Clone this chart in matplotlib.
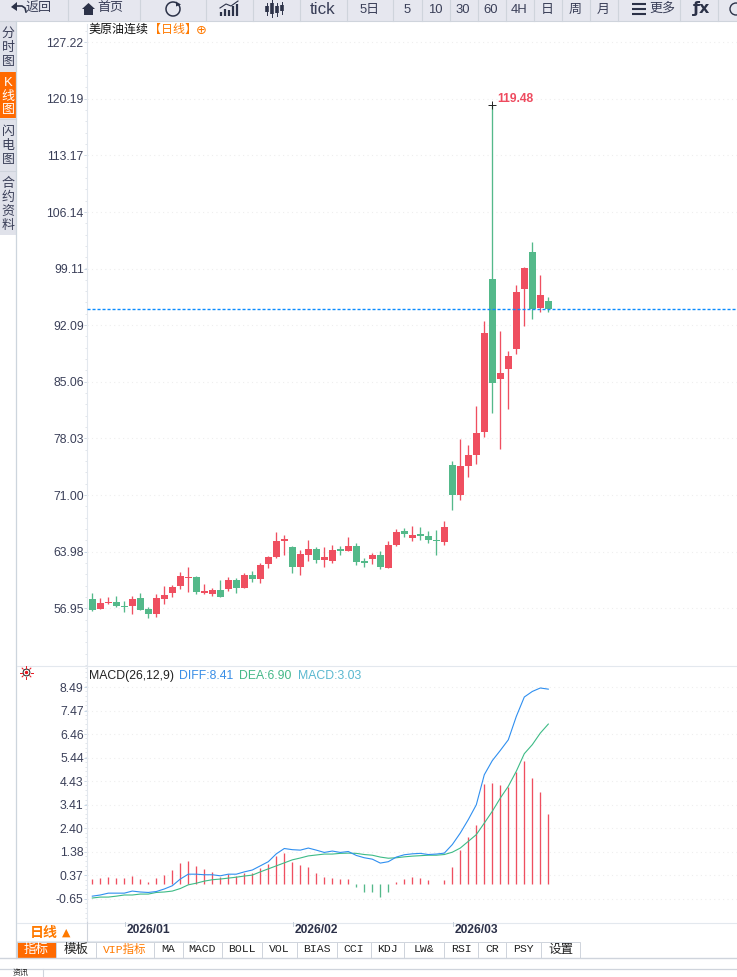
import numpy as np
import matplotlib
matplotlib.use('Agg')
import matplotlib.pyplot as plt
from matplotlib.patches import Rectangle, Circle, Polygon, Arc

plt.rcParams['font.family'] = ['Liberation Sans', 'Noto Sans CJK SC', 'DejaVu Sans']

W, H = 737, 977

# daily candles
opens = [58.10, 56.87, 57.61, 57.73, 57.24, 57.24, 58.23, 56.87, 56.25, 58.10,
         58.84, 59.71, 60.69, 60.82, 58.84, 58.72, 59.21, 59.34, 60.45, 59.46,
         61.06, 60.57, 62.42, 63.29, 65.26, 64.52, 62.05, 63.53, 64.27, 62.92,
         62.79, 64.27, 64.03, 64.65, 62.79, 63.04, 63.53, 61.93, 64.77, 66.50,
         65.63, 66.13, 65.88, 65.39, 65.14, 74.76, 71.04, 74.63, 76.00, 78.84,
         97.79, 85.41, 86.65, 89.12, 96.55, 101.13, 94.20, 95.07]
closes = [56.74, 57.61, 57.73, 57.24, 57.11, 58.10, 56.74, 56.25, 58.23, 58.60,
          59.58, 60.94, 60.82, 58.97, 59.09, 59.21, 58.35, 60.45, 59.46, 61.06,
          60.57, 62.30, 63.29, 65.26, 65.51, 62.05, 63.66, 64.27, 62.92, 63.29,
          64.15, 64.03, 64.65, 62.67, 62.55, 63.53, 62.05, 64.77, 66.37, 66.13,
          66.00, 65.88, 65.39, 65.26, 66.99, 70.96, 74.63, 76.00, 78.72, 91.10,
          84.91, 86.15, 88.26, 96.18, 99.15, 94.16, 95.81, 94.16]
highs = [58.84, 58.23, 58.35, 58.47, 57.86, 58.47, 58.84, 57.11, 58.72, 59.71,
         59.83, 61.44, 62.05, 60.94, 59.95, 59.46, 60.45, 60.82, 60.69, 61.31,
         61.56, 62.55, 63.41, 66.37, 66.00, 64.65, 64.15, 65.39, 64.52, 64.52,
         64.77, 64.65, 65.76, 65.02, 63.16, 63.78, 64.03, 65.26, 66.74, 66.87,
         67.11, 66.99, 66.50, 66.62, 67.73, 75.25, 77.98, 77.23, 82.06, 92.59,
         119.48, 91.35, 88.87, 97.05, 99.28, 102.37, 98.29, 95.56]
lows = [56.62, 56.87, 57.48, 57.11, 56.50, 56.25, 56.74, 55.76, 55.88, 57.48,
        58.35, 59.34, 58.97, 58.72, 58.72, 58.47, 58.35, 59.09, 58.84, 59.46,
        60.20, 60.08, 61.93, 63.16, 63.53, 61.31, 61.07, 62.79, 62.55, 62.05,
        62.55, 63.53, 64.03, 62.30, 62.05, 62.42, 61.81, 61.93, 64.65, 65.76,
        65.26, 65.39, 65.02, 63.53, 64.77, 69.18, 70.42, 73.27, 74.88, 78.22,
        81.20, 76.74, 81.69, 88.50, 91.97, 92.84, 93.70, 93.70]

diff = [-0.54, -0.49, -0.41, -0.41, -0.41, -0.32, -0.36, -0.38, -0.34, -0.23,
        -0.09, 0.20, 0.41, 0.41, 0.385, 0.385, 0.34, 0.41, 0.41, 0.51,
        0.59, 0.77, 0.95, 1.29, 1.52, 1.47, 1.45, 1.54, 1.45, 1.35,
        1.41, 1.35, 1.39, 1.22, 1.12, 1.06, 0.89, 0.95, 1.15, 1.25,
        1.29, 1.31, 1.26, 1.28, 1.32, 1.69, 2.19, 2.77, 3.41, 4.71,
        5.32, 5.76, 6.22, 7.23, 8.07, 8.31, 8.46, 8.41]
dea = [-0.62, -0.58, -0.58, -0.54, -0.49, -0.49, -0.45, -0.45, -0.38, -0.36,
       -0.32, -0.21, -0.05, 0.02, 0.11, 0.17, 0.20, 0.24, 0.28, 0.33,
       0.37, 0.51, 0.64, 0.77, 0.90, 1.03, 1.11, 1.20, 1.24, 1.28,
       1.28, 1.31, 1.32, 1.31, 1.26, 1.23, 1.15, 1.10, 1.12, 1.16,
       1.19, 1.21, 1.23, 1.23, 1.26, 1.36, 1.54, 1.83, 2.12, 2.62,
       3.13, 3.70, 4.21, 4.86, 5.62, 6.01, 6.51, 6.90]
macd = [0.20, 0.245, 0.29, 0.245, 0.245, 0.33, 0.20, 0.07, 0.245, 0.375,
        0.59, 0.89, 0.98, 0.76, 0.63, 0.50, 0.29, 0.42, 0.33, 0.46,
        0.46, 0.68, 0.85, 1.20, 1.33, 0.94, 0.81, 0.72, 0.46, 0.29,
        0.245, 0.20, 0.20, -0.14, -0.36, -0.36, -0.58, -0.36, 0.07, 0.20,
        0.29, 0.245, 0.16, -0.02, 0.16, 0.72, 1.46, 2.01, 2.53, 4.30,
        4.34, 4.26, 4.20, 4.81, 5.30, 4.56, 3.96, 3.03]

price_ticks = [127.22, 120.19, 113.17, 106.14, 99.11, 92.09, 85.06, 78.03, 71.00, 63.98, 56.95]
macd_ticks = [8.49, 7.47, 6.46, 5.44, 4.43, 3.41, 2.40, 1.38, 0.37, -0.65]
date_pos = [4, 25, 45]
date_labels = ['2026/01', '2026/02', '2026/03']
last_price = 94.15
peak_price = 119.48

RED = '#ef4f60'
GREEN = '#54b98a'
BLUE = '#2f8ff0'
LINE = '#e3e8ee'
GRID = '#eeeeee'
TEXT = '#3a3f58'
ICON = '#2c3248'
ORANGE = '#ff7a00'
CHROME = '#e6e7ef'
SEP = '#cfd4dc'


def px(v):
    return v * 0.72


def pane(top, bottom):
    ax = fig.add_axes([87 / W, 1 - bottom / H, (W - 87) / W, (bottom - top) / H])
    ax.set_xlim((87 - 92.3) / 8, (W - 92.3) / 8)
    ax.set_facecolor('white')
    for s in ['top', 'right', 'bottom']:
        ax.spines[s].set_visible(False)
    ax.spines['left'].set_color(LINE)
    ax.spines['left'].set_linewidth(0.8)
    ax.set_xticks([])
    return ax


def style_y(ax, ticks, step, ylim):
    ax.set_yticks(ticks)
    ax.set_yticklabels(['%.2f' % t for t in ticks], fontsize=px(12.2), color=TEXT)
    ax.tick_params(axis='y', which='major', length=2.2, width=0.7, color='#c6d6e6', pad=0.2)
    ax.set_yticks(np.arange(ticks[-1] - step * 10, ticks[0] + step * 10, step), minor=True)
    ax.tick_params(axis='y', which='minor', length=1.4, width=0.6, color='#dde2e8')
    ax.grid(True, axis='y', which='major', color=GRID, linestyle=(0, (1, 3)), linewidth=0.8)
    ax.set_axisbelow(True)
    ax.set_ylim(*ylim)


fig = plt.figure(figsize=(W / 100, H / 100), dpi=100, facecolor='white')

# price pane
ax = pane(24, 665)
p_scale = (608.3 - 42.2) / (price_ticks[0] - price_ticks[-1])
style_y(ax, price_ticks, (price_ticks[0] - price_ticks[1]) / 5,
        (price_ticks[-1] - (665 - 608.3) / p_scale, price_ticks[0] + (42.2 - 24) / p_scale))

x = np.arange(len(opens))
o = np.array(opens)
c = np.array(closes)
colors = [RED if c[i] >= o[i] else GREEN for i in x]
ax.vlines(x, lows, highs, colors=colors, linewidth=0.95, zorder=3)
ax.bar(x, np.maximum(np.abs(c - o), 0.1), bottom=np.minimum(o, c), width=0.875,
       color=colors, linewidth=0, zorder=3)
ax.axhline(last_price, color='#0a8cff', linewidth=1.0, linestyle=(0, (2.2, 1.4)), zorder=4)
ax.plot([50], [peak_price], marker='+', color='#222222', markersize=5.5, markeredgewidth=0.7, zorder=5)
ax.annotate('%.2f' % peak_price, (50, peak_price), xytext=(3.5, 0), textcoords='offset points',
            color='#ee4b5f', fontsize=px(12), fontweight='bold', va='bottom')

# macd pane
ax2 = pane(667, 922)
m_scale = (898.7 - 687.3) / (macd_ticks[0] - macd_ticks[-1])
style_y(ax2, macd_ticks, (macd_ticks[0] - macd_ticks[1]) / 5,
        (macd_ticks[-1] - (922 - 898.7) / m_scale, macd_ticks[0] + (687.3 - 667) / m_scale))
m = np.array(macd)
ax2.vlines(x, 0, m, colors=[RED if v >= 0 else GREEN for v in m], linewidth=0.95, zorder=2)
ax2.plot(x, dea, color='#3dbb86', linewidth=0.8, zorder=3)
ax2.plot(x, diff, color=BLUE, linewidth=0.8, zorder=4)

# everything around the chart goes on a pixel overlay
ov = fig.add_axes([0, 0, 1, 1], zorder=10)
ov.set_xlim(0, W)
ov.set_ylim(H, 0)
ov.axis('off')
ov.patch.set_alpha(0)


def box(x0, y0, x1, y1, color, ec='none', lw=0):
    ov.add_patch(Rectangle((x0, y0), x1 - x0, y1 - y0, facecolor=color, edgecolor=ec, linewidth=lw))


def label(tx, ty, s, size=12, color=TEXT, ha='center', **kw):
    ov.text(tx, ty, s, fontsize=px(size), color=color, ha=ha, va='center', **kw)


# toolbar
box(0, 0, W, 21, CHROME)
ov.plot([0, W], [21, 21], color=SEP, lw=0.8)
for sx in [68, 140, 206, 253, 300, 347, 393, 422, 450, 478, 506, 534, 562, 590, 618, 680, 718]:
    ov.plot([sx, sx], [0, 21], color=SEP, lw=0.8)
tool_x = [370, 407, 435, 463, 491, 519, 547, 575, 603]
tool_s = ['5日', '5', '10', '30', '60', '4H', '日', '周', '月']
for tx, s in zip(tool_x, tool_s):
    label(tx, 10, s, size=13)
label(323, 9, 'tick', size=17)
label(39, 8, '返回', size=13)
label(110, 8, '首页', size=13)
label(662, 9, '更多', size=13)
label(702, 9, 'ƒx', size=16, color=ICON, fontweight='bold', family=['DejaVu Sans'])

# toolbar icons
ov.add_patch(Polygon([(11, 7), (17, 2), (17, 11)], facecolor=ICON, edgecolor='none'))
ov.plot([16, 22, 25, 26], [6, 6, 8, 12], color=ICON, lw=1.2)
ov.add_patch(Polygon([(82, 9), (88.5, 3), (95, 9), (93, 9), (93, 15), (84, 15), (84, 9)],
                     facecolor=ICON, edgecolor='none'))
ov.add_patch(Arc((173, 9), 14, 14, theta1=-40, theta2=300, color=ICON, lw=1.1))
ov.add_patch(Polygon([(176, 1.5), (181, 4.5), (176, 6.5)], facecolor=ICON, edgecolor='none'))
for ly in [4, 9, 14]:
    ov.plot([632, 646], [ly, ly], color=ICON, lw=1.5, solid_capstyle='butt')
ov.add_patch(Circle((736, 9), 6, facecolor='none', edgecolor=ICON, linewidth=1.0))
for bx, bh in zip([221, 225, 229, 233, 237], [4, 7, 6, 10, 12]):
    ov.plot([bx, bx], [16, 16 - bh], color=ICON, lw=1.6, solid_capstyle='butt')
ov.plot([220, 226, 231, 238], [8, 4, 6, 1], color=ICON, lw=0.8)
for bx, y0, y1 in [(267, 5, 13), (272, 2, 15), (277, 5, 14), (282, 4, 12)]:
    ov.plot([bx, bx], [y0 - 2, y1 + 2], color=ICON, lw=0.7)
    ov.plot([bx, bx], [y0 + 1, y1 - 1], color=ICON, lw=2.6, solid_capstyle='butt')

# left side tabs
box(0, 21, 16, 235, '#e0e2ea')
box(0, 72, 16, 118, '#ff6a00')
for s, ys, col in [('分时图', [34, 48, 62], TEXT), ('K线图', [83, 97, 110], 'white'),
                   ('闪电图', [132, 146, 160], TEXT), ('合约资料', [184, 198, 212, 226], TEXT)]:
    for ch, ty in zip(s, ys):
        label(8, ty, ch, size=13, color=col)
ov.plot([0, 16], [171, 171], color=SEP, lw=0.8)
ov.plot([0, 16], [119, 119], color=SEP, lw=0.8)
ov.plot([16.5, 16.5], [21, 958], color='#cdd5dd', lw=0.9)

# pane titles
label(89, 30, '美原油连续', size=12, color='#111111', ha='left')
label(149, 30, '【日线】', size=12, color=ORANGE, ha='left')
label(201, 31, '⊕', size=13, color=ORANGE, family=['DejaVu Sans'])
ov.plot([17, W], [665.5, 665.5], color=LINE, lw=0.8)

# the little sun next to the macd title
ov.add_patch(Circle((26.5, 672.5), 3.4, facecolor='white', edgecolor='#222222', linewidth=0.7))
ov.add_patch(Circle((26.5, 672.5), 1.7, facecolor='#e8141e', edgecolor='none'))
for a in np.arange(0, 360, 45):
    ca, sa = np.cos(np.radians(a)), np.sin(np.radians(a))
    ov.plot([26.5 + 4.6 * ca, 26.5 + 6.2 * ca], [672.5 + 4.6 * sa, 672.5 + 6.2 * sa], color='#e8141e', lw=0.7)

label(89, 676, 'MACD(26,12,9)', size=12.3, color='#222222', ha='left')
label(179, 676, 'DIFF:8.41', size=12.3, color='#3a8ee6', ha='left')
label(239, 676, 'DEA:6.90', size=12.3, color='#45b888', ha='left')
label(298, 676, 'MACD:3.03', size=12.3, color='#5ab8d0', ha='left')

# date axis
ov.plot([17, W], [922.5, 922.5], color=LINE, lw=0.8)
ov.plot([17, 195], [941, 941], color=LINE, lw=0.8)
ov.plot([87, 87], [922, 941], color=SEP, lw=0.8)
for p, s in zip(date_pos, date_labels):
    tick_x = 92.3 + 8 * p + 0.7
    ov.plot([tick_x, tick_x], [922, 926], color='#c6d0da', lw=0.7)
    label(tick_x + 1.5, 930, s, size=12, color='#2b3048', ha='left', fontweight='bold')
label(44, 933, '日线', size=14, color=ORANGE, fontweight='bold')
label(66, 933, '▲', size=11, color=ORANGE, family=['DejaVu Sans'])

# bottom tabs
tab_edges = [17, 56, 96, 154, 183, 222, 262, 297, 337, 371, 404, 444, 478, 506, 541, 580]
tab_names = ['指标', '模板', 'VIP指标', 'MA', 'MACD', 'BOLL', 'VOL', 'BIAS', 'CCI', 'KDJ', 'LW&', 'RSI', 'CR', 'PSY', '设置']
for i, s in enumerate(tab_names):
    x0, x1 = tab_edges[i], tab_edges[i + 1]
    fill = '#ff6a00' if i == 0 else 'white'
    box(x0, 941.5, x1, 957.5, fill, ec=SEP, lw=0.7)
    col = 'white' if i == 0 else (ORANGE if i == 2 else '#222222')
    fam = ['Noto Sans CJK SC'] if i in (0, 1, 14) else ['Liberation Mono', 'Noto Sans CJK SC']
    label((x0 + x1) / 2, 949.5, s, size=12.5 if i in (0, 1, 14) else 11.5, color=col, family=fam)
ov.plot([0, W], [958, 958], color=SEP, lw=1.0)
ov.plot([0, W], [968.5, 968.5], color=SEP, lw=0.9)
ov.plot([43, 43], [968.5, 977], color=SEP, lw=0.8)
label(21, 973, '资讯', size=8, color='#222222')

fig.savefig('out.png', dpi=100)
